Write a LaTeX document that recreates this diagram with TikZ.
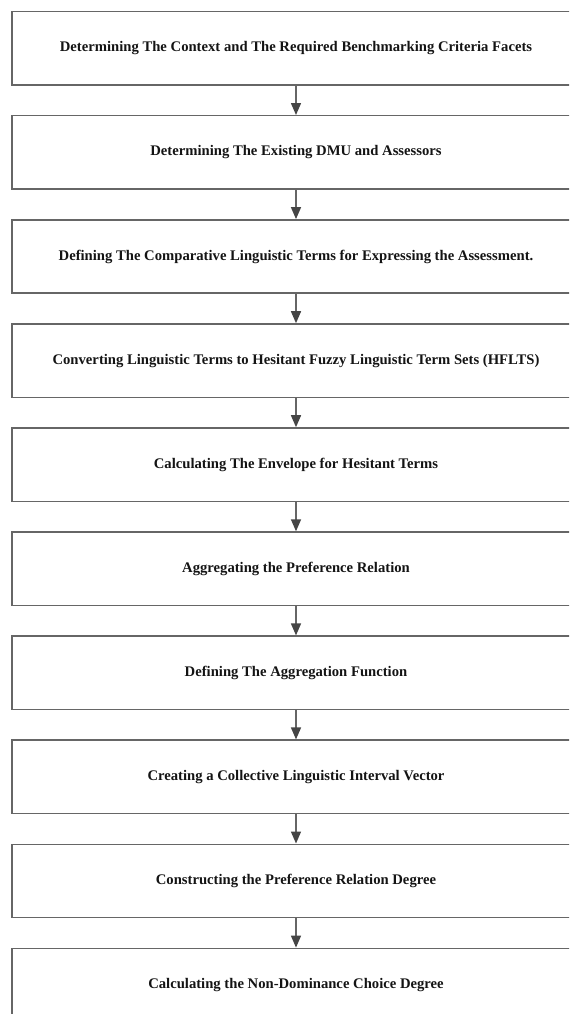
\documentclass[tikz,border=0pt]{standalone}
\usepackage{fontspec}
\setmainfont{Liberation Serif}
\usepackage{tikz}
\usetikzlibrary{arrows.meta}
\definecolor{linegray}{rgb}{0.40, 0.40, 0.40}
\definecolor{tipgray}{rgb}{0.27, 0.27, 0.27}
\definecolor{txtcol}{rgb}{0.08, 0.08, 0.08}
\tikzstyle{stepbox}=[draw=linegray, line width=1.1pt, minimum width=426pt, minimum height=55pt, inner sep=0pt, text=txtcol, font=\bfseries\fontsize{11}{13}\selectfont]
\tikzstyle{flow}=[linegray, line width=1.1pt, -{Triangle[width=7.5pt,length=9pt,color=tipgray]}]

\begin{document}
\begin{tikzpicture}[x=0.75pt,y=-0.75pt]
\useasboundingbox (0,0) rectangle (569,1014);
\clip (0,0) rectangle (569,1014);
\node[stepbox] (ctx) at (296,48.4) {Determining The Context and The Required Benchmarking Criteria Facets};
\node[stepbox] (dmu) at (296,152.4) {Determining The Existing DMU and Assessors};
\node[stepbox] (terms) at (296,256.5) {Defining The Comparative Linguistic Terms for Expressing the Assessment.};
\node[stepbox] (hflts) at (296,360.6) {Converting Linguistic Terms to Hesitant Fuzzy Linguistic Term Sets (HFLTS)};
\node[stepbox] (env) at (296,464.6) {Calculating The Envelope for Hesitant Terms};
\node[stepbox] (pref) at (296,568.7) {Aggregating the Preference Relation};
\node[stepbox] (aggfun) at (296,672.8) {Defining The Aggregation Function};
\node[stepbox] (vec) at (296,776.8) {Creating a Collective Linguistic Interval Vector};
\node[stepbox] (degree) at (296,880.9) {Constructing the Preference Relation Degree};
\node[stepbox] (choice) at (296,985.0) {Calculating the Non-Dominance Choice Degree};
\draw[flow] (ctx) -- (dmu);
\draw[flow] (dmu) -- (terms);
\draw[flow] (terms) -- (hflts);
\draw[flow] (hflts) -- (env);
\draw[flow] (env) -- (pref);
\draw[flow] (pref) -- (aggfun);
\draw[flow] (aggfun) -- (vec);
\draw[flow] (vec) -- (degree);
\draw[flow] (degree) -- (choice);
\end{tikzpicture}
\end{document}
